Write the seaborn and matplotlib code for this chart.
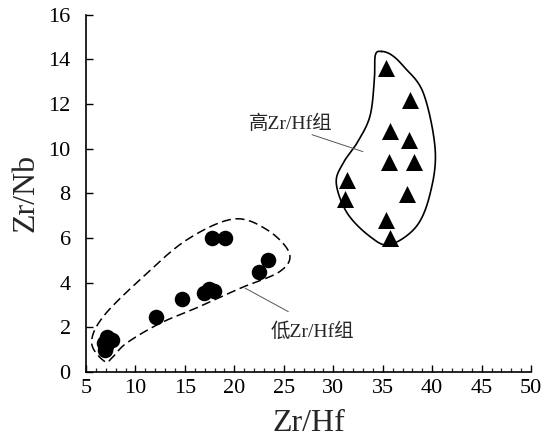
import numpy as np
import pandas as pd
import matplotlib
matplotlib.use("Agg")
import matplotlib.pyplot as plt
import seaborn as sns
from matplotlib.ticker import MultipleLocator

# ---- data ----
low_zrhf = [17.7, 19.1, 23.4, 22.5, 16.9, 17.4, 17.9, 14.7, 12.05, 7.1, 7.6, 6.9, 6.8, 7.0]
low_zrnb = [6.0, 6.0, 5.0, 4.47, 3.53, 3.71, 3.63, 3.27, 2.48, 1.58, 1.45, 1.0, 1.3, 1.15]
high_zrhf = [35.3, 37.75, 35.7, 37.7, 35.65, 38.2, 31.35, 31.2, 37.5, 35.3, 35.7]
high_zrnb = [13.6, 12.2, 10.8, 10.4, 9.4, 9.4, 8.6, 7.75, 7.95, 6.8, 6.0]
group_low = "低Zr/Hf组"
group_high = "高Zr/Hf组"

# group envelopes (outline control points)
low_env_x = [6.92, 5.58, 6.75, 10.8, 15.2, 19.9, 23.3, 25.56, 24.6, 20.6, 16.5, 12.5, 9.1, 7.76]
low_env_y = [0.46, 1.29, 2.48, 4.27, 5.92, 6.85, 6.37, 5.32, 4.5, 3.75, 2.93, 2.18, 1.29, 0.69]
high_env_x = [34.9, 35.9, 37.1, 39.1, 40.3, 39.8, 38.4, 35.7, 33.7, 31.4, 30.3, 31.0, 32.4, 33.7, 34.15, 34.25]
high_env_y = [14.36, 14.2, 13.69, 12.5, 9.96, 8.01, 6.52, 5.7, 6.07, 7.12, 8.46, 9.36, 10.26, 11.45, 13.09, 14.2]

df = pd.DataFrame({
    "Zr/Hf": low_zrhf + high_zrhf,
    "Zr/Nb": low_zrnb + high_zrnb,
    "group": [group_low] * len(low_zrhf) + [group_high] * len(high_zrhf),
})

sns.set_style("ticks")
fam = ["Liberation Serif", "Noto Sans CJK SC"]
plt.rcParams["font.family"] = fam

fig = plt.figure(figsize=(5.51, 4.37), dpi=100)
ax = fig.add_axes([0.156, 0.149, 0.808, 0.817])

sns.scatterplot(data=df[df["group"] == group_low], x="Zr/Hf", y="Zr/Nb",
                marker="o", color="black", s=125, linewidth=0, legend=False, ax=ax)
sns.scatterplot(data=df[df["group"] == group_high], x="Zr/Hf", y="Zr/Nb",
                marker="^", color="black", s=150, linewidth=0, legend=False, ax=ax)


def smooth_closed(xs, ys, n=30):
    P = np.column_stack([xs, ys])
    m = len(P)
    out = []
    for i in range(m):
        p0, p1, p2, p3 = P[(i - 1) % m], P[i], P[(i + 1) % m], P[(i + 2) % m]
        t = np.linspace(0, 1, n, endpoint=False)[:, None]
        seg = 0.5 * ((2 * p1) + (-p0 + p2) * t + (2 * p0 - 5 * p1 + 4 * p2 - p3) * t ** 2
                     + (-p0 + 3 * p1 - 3 * p2 + p3) * t ** 3)
        out.append(seg)
    out = np.vstack(out)
    return np.append(out[:, 0], out[0, 0]), np.append(out[:, 1], out[0, 1])


lx, ly = smooth_closed(low_env_x, low_env_y)
ax.plot(lx, ly, color="black", lw=1.1, ls=(0, (6, 3)))
hx, hy = smooth_closed(high_env_x, high_env_y)
ax.plot(hx, hy, color="black", lw=1.2)

# annotations
ax.plot([27.85, 33.0], [10.63, 9.87], color="#555555", lw=0.7)
ax.text(21.5, 11.1, group_high, fontsize=14, family=fam, va="center", ha="left")
ax.plot([21.1, 25.45], [3.75, 2.70], color="#555555", lw=0.7)
ax.text(23.7, 1.8, group_low, fontsize=14, family=fam, va="center", ha="left")

ax.set_xlim(5, 50)
ax.set_ylim(0, 16)
ax.xaxis.set_major_locator(MultipleLocator(5))
ax.xaxis.set_minor_locator(MultipleLocator(1))
ax.yaxis.set_major_locator(MultipleLocator(2))
ax.tick_params(axis="both", which="major", direction="in", length=5, width=1.0,
               labelsize=16, color="black", labelcolor="black")
ax.tick_params(axis="x", which="major", pad=5)
ax.tick_params(axis="y", which="major", pad=11)
ax.tick_params(axis="x", which="minor", direction="in", length=3, width=0.9)
for s in ["top", "right"]:
    ax.spines[s].set_visible(False)
for s in ["left", "bottom"]:
    ax.spines[s].set_linewidth(1.2)
    ax.spines[s].set_color("black")
ax.set_xlabel("Zr/Hf", fontsize=23, labelpad=8)
ax.set_ylabel("Zr/Nb", fontsize=23, labelpad=6)

fig.savefig("out.png", dpi=100)
